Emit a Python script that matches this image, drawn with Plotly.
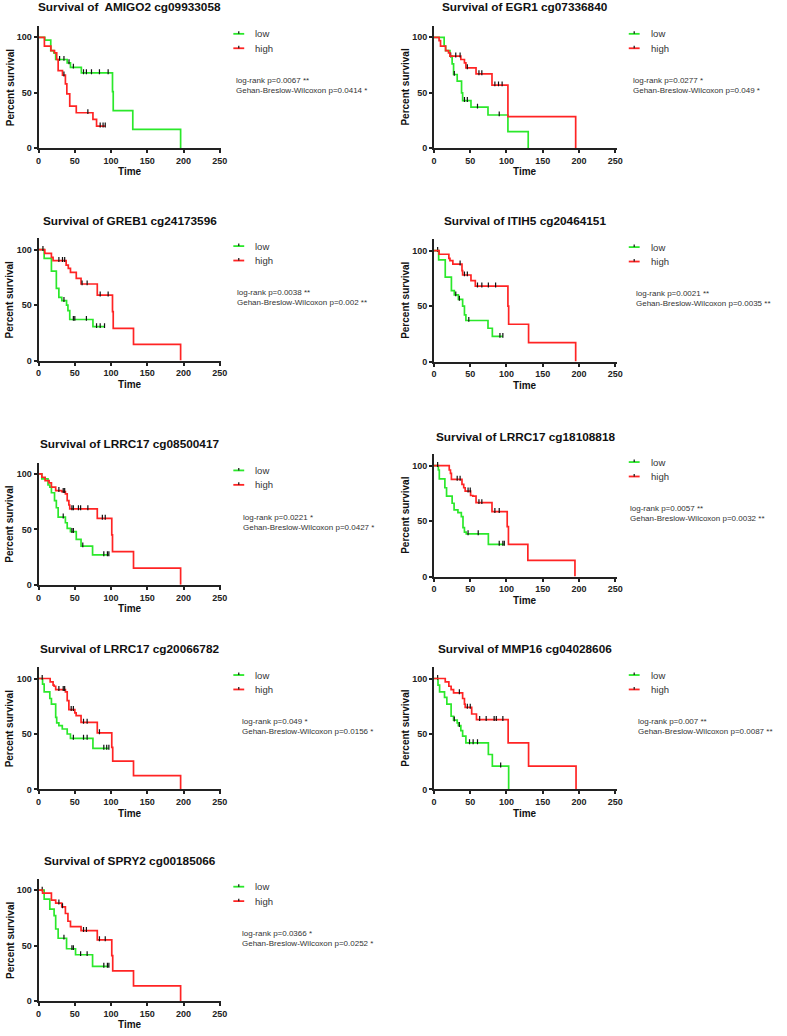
import plotly.graph_objects as go

W, H = 787, 1036

titles = [
    "Survival of  AMIGO2 cg09933058", "Survival of EGR1 cg07336840",
    "Survival of GREB1 cg24173596", "Survival of ITIH5 cg20464151",
    "Survival of LRRC17 cg08500417", "Survival of LRRC17 cg18108818",
    "Survival of LRRC17 cg20066782", "Survival of MMP16 cg04028606",
    "Survival of SPRY2 cg00185066",
]
logrank = [
    "log-rank p=0.0067 **", "log-rank p=0.0277 *", "log-rank p=0.0038 **",
    "log-rank p=0.0021 **", "log-rank p=0.0221 *", "log-rank p=0.0057 **",
    "log-rank p=0.049 *", "log-rank p=0.007 **", "log-rank p=0.0366 *",
]
gehan = [
    "Gehan-Breslow-Wilcoxon p=0.0414 *", "Gehan-Breslow-Wilcoxon p=0.049 *",
    "Gehan-Breslow-Wilcoxon p=0.002 **", "Gehan-Breslow-Wilcoxon p=0.0035 **",
    "Gehan-Breslow-Wilcoxon p=0.0427 *", "Gehan-Breslow-Wilcoxon p=0.0032 **",
    "Gehan-Breslow-Wilcoxon p=0.0156 *", "Gehan-Breslow-Wilcoxon p=0.0087 **",
    "Gehan-Breslow-Wilcoxon p=0.0252 *",
]
xticks = [0, 50, 100, 150, 200, 250]
yticks = [0, 50, 100]

# Kaplan-Meier curves: event times, percent survival after each event, censored times
amigo2_low_t = [8.6, 16.8, 21, 23.6, 39.5, 44, 59, 102, 103, 130, 196]
amigo2_low_s = [97.5, 88, 86, 80, 77, 73, 68, 51, 34, 17, 0]
amigo2_low_c = [29, 35, 42, 48, 62, 66, 73, 84, 96]
amigo2_high_t = [8, 17, 22, 25, 27, 33, 37, 39, 43, 52, 75, 80]
amigo2_high_s = [92, 88, 86, 80, 70, 66, 58, 49, 38, 32, 26, 20]
amigo2_high_c = [35, 68, 85, 89, 92]

egr1_low_t = [14, 16, 22, 25, 27, 32, 38, 39.5, 51, 74.5, 102, 130]
egr1_low_s = [92, 88, 83, 76, 66.5, 60.5, 50, 43, 37, 30, 15, 0]
egr1_low_c = [23, 28, 42, 46, 60, 90]
egr1_high_t = [7, 9, 16, 20, 22, 37, 42, 44, 58, 80, 102, 195.5]
egr1_high_s = [97, 92, 88, 86, 83, 80, 77, 72.5, 67, 57, 28.5, 0]
egr1_high_c = [30, 36, 46, 62, 66, 84, 89, 94]

greb1_low_t = [7.7, 17.7, 24.5, 28, 32, 38.6, 40.5, 43, 75]
greb1_low_s = [92, 80.5, 65, 57, 54, 50, 45, 37, 30.5]
greb1_low_c = [35, 48, 50, 66, 80, 85, 91]
greb1_high_t = [8.6, 17.7, 20, 38, 41, 44, 52, 58.6, 81, 102, 103, 131, 196]
greb1_high_s = [96.5, 93, 90, 86, 83, 79.5, 74, 69, 59, 44, 29, 14.6, 0]
greb1_high_c = [6, 28, 33, 36, 60, 67, 85, 96]

itih5_low_t = [6.4, 15.5, 24, 28, 33.6, 39.5, 42, 44, 74.5, 80.5]
itih5_low_s = [91.7, 76, 64, 60, 56, 50, 42, 37, 30, 22.6]
itih5_low_c = [5, 30, 35, 48, 91, 95]
itih5_high_t = [7, 20.5, 22, 26, 38.6, 39.5, 51, 57, 102, 103, 130.5, 195.5]
itih5_high_s = [96.7, 93, 91, 87.8, 82, 78, 73, 68, 50, 33.6, 17, 0]
itih5_high_c = [36, 42, 46, 60, 66, 75, 85]

lrrc17a_low_t = [4.5, 13, 15.5, 17.7, 22, 24.5, 27, 37, 39.5, 44, 52, 58.6, 74.5]
lrrc17a_low_s = [95.5, 90, 88, 83, 76, 69.5, 61, 56, 51, 48, 41, 35, 27]
lrrc17a_low_c = [34, 46, 48, 61, 90, 95, 97]
lrrc17a_high_t = [4.5, 9, 14.5, 17.7, 23.6, 32, 37, 39.5, 41.8, 43, 81, 101, 102, 131, 196]
lrrc17a_high_s = [97, 94, 92, 88, 85, 84, 82, 76, 72, 68.5, 60, 45, 30, 15, 0]
lrrc17a_high_c = [28, 34, 36, 46, 48, 55, 58, 68, 88, 92]

lrrc17b_low_t = [6, 7.3, 15, 17.3, 25, 27.7, 33, 37.7, 40, 42, 44.5, 75]
lrrc17b_low_s = [96, 88, 80, 72.5, 66, 60, 57.5, 54, 44, 40, 38.5, 29]
lrrc17b_low_c = [47, 61, 90, 95, 97]
lrrc17b_high_t = [21, 22.7, 24, 38.6, 41, 43, 50.5, 53.6, 58, 80, 101, 102.7, 129.5, 194.5]
lrrc17b_high_s = [96, 93, 87.5, 83, 80, 77, 73, 72.5, 66.5, 58.5, 45, 29, 14.5, 0]
lrrc17b_high_c = [5, 32, 36, 47, 50, 62, 66, 84, 90]

lrrc17c_low_t = [5.5, 7.7, 15.5, 17.7, 23.6, 25, 28, 32.7, 39.5, 44, 75]
lrrc17c_low_s = [95, 88, 82, 77, 65, 60, 57.5, 54.5, 50, 46, 37]
lrrc17c_low_c = [48, 62, 67, 90, 94, 97]
lrrc17c_high_t = [16, 20, 21.4, 23.6, 37, 39.5, 41.8, 50, 51.8, 58.6, 81, 101, 102.3, 131, 196]
lrrc17c_high_s = [97, 94, 93, 90, 88, 80, 72, 69, 66.5, 60.5, 51, 38, 25.5, 12.5, 0]
lrrc17c_high_c = [5, 28, 34, 36, 45, 48, 62, 67, 84]

mmp16_low_t = [5.5, 7.7, 14.5, 17.7, 23.6, 27, 32, 33.6, 37, 39.5, 44, 75, 80.5, 103]
mmp16_low_s = [94, 88, 83, 77, 66, 62.5, 60, 57.5, 53, 48, 42, 31.5, 21, 0]
mmp16_low_c = [5, 28, 35, 49, 54, 60, 92]
mmp16_high_t = [15.5, 20.5, 23.6, 27, 39.5, 42, 43, 52, 58.6, 102.3, 130.5, 196]
mmp16_high_s = [97, 93, 90, 87, 82, 77, 74, 68, 63, 42, 21, 0]
mmp16_high_c = [35, 46, 50, 63, 72, 83, 86, 95]

spry2_low_t = [7.7, 15.5, 21.4, 23.6, 27, 38.6, 51, 74.5]
spry2_low_s = [92, 83, 77, 65, 56.7, 47.2, 41.8, 31.3]
spry2_low_c = [5, 35, 46, 48, 58, 67, 90, 95, 97]
spry2_high_t = [5.5, 17.7, 23.6, 32, 37, 40.5, 44, 58.6, 81, 101, 102.3, 131, 196]
spry2_high_s = [97.3, 91, 88.4, 85, 79, 72, 67.2, 63.6, 55.2, 41, 27.2, 13.7, 0]
spry2_high_c = [28, 33, 62, 66, 84, 92]

curves = [
    (amigo2_low_t, amigo2_low_s, amigo2_low_c, amigo2_high_t, amigo2_high_s, amigo2_high_c),
    (egr1_low_t, egr1_low_s, egr1_low_c, egr1_high_t, egr1_high_s, egr1_high_c),
    (greb1_low_t, greb1_low_s, greb1_low_c, greb1_high_t, greb1_high_s, greb1_high_c),
    (itih5_low_t, itih5_low_s, itih5_low_c, itih5_high_t, itih5_high_s, itih5_high_c),
    (lrrc17a_low_t, lrrc17a_low_s, lrrc17a_low_c, lrrc17a_high_t, lrrc17a_high_s, lrrc17a_high_c),
    (lrrc17b_low_t, lrrc17b_low_s, lrrc17b_low_c, lrrc17b_high_t, lrrc17b_high_s, lrrc17b_high_c),
    (lrrc17c_low_t, lrrc17c_low_s, lrrc17c_low_c, lrrc17c_high_t, lrrc17c_high_s, lrrc17c_high_c),
    (mmp16_low_t, mmp16_low_s, mmp16_low_c, mmp16_high_t, mmp16_high_s, mmp16_high_c),
    (spry2_low_t, spry2_low_s, spry2_low_c, spry2_high_t, spry2_high_s, spry2_high_c),
]

# panel placement in pixels: left edge of plot (time 0), bottom (0 %)
px_left = [36, 436, 36, 436, 36, 436, 36, 436, 36]
px_bottom = [149, 149, 362.3, 363.3, 587.7, 579.3, 793.3, 793.3, 1006]
px_title = [7.3, 7.3, 221.7, 221.7, 445.7, 439, 651.7, 651.7, 865]
px_note_x = [234, 635, 235, 638, 240.7, 632, 240, 640, 240]

XMAX, YMAX = 252, 110
SX, SY = 0.733, 1.115  # px per unit

GREEN = "#2be82b"
RED = "#ff2424"
FONT = "Liberation Sans, Arial, sans-serif"


def px(x):
    return x / W


def py(y):
    return 1 - y / H


def step_xy(t, s, c):
    end = max(t[-1], max(c) if c else 0)
    xs = [0] + t + [end]
    ys = [100] + s + [s[-1]]
    return xs, ys


def surv_at(t, s, when):
    v = 100
    for ti, si in zip(t, s):
        if ti <= when:
            v = si
    return v


fig = go.Figure()
shapes = []
annotations = []

for i in range(9):
    n = "" if i == 0 else str(i + 1)
    xa, ya = "x" + n, "y" + n
    x0 = px_left[i]
    x1 = x0 + XMAX * SX
    yb = px_bottom[i]
    yt = yb - YMAX * SY
    y100 = yb - 100 * SY

    lt, ls, lc, ht, hs, hc = curves[i]
    for t, s, c, col, name in [(lt, ls, lc, GREEN, "low"), (ht, hs, hc, RED, "high")]:
        xs, ys = step_xy(t, s, c)
        fig.add_trace(go.Scatter(x=xs, y=ys, mode="lines", line=dict(color=col, width=1.7, shape="hv"),
                                 xaxis=xa, yaxis=ya, showlegend=False, name=name))
        fig.add_trace(go.Scatter(x=c, y=[surv_at(t, s, v) + 1.0 for v in c], mode="markers",
                                 marker=dict(symbol="line-ns", size=3.5, line=dict(color="#111", width=1.2)),
                                 xaxis=xa, yaxis=ya, showlegend=False, hoverinfo="skip"))

    axstyle = dict(showline=True, linewidth=2, linecolor="#222", ticks="outside", ticklen=3,
                   tickwidth=1.5, tickcolor="#222", showgrid=False, zeroline=False,
                   tickfont=dict(family=FONT, size=9, color="#222", weight="bold"))
    fig.layout["xaxis" + n] = dict(domain=[px(x0), px(x1)], range=[0, XMAX], tickvals=xticks,
                                   anchor=ya, **axstyle)
    fig.layout["yaxis" + n] = dict(domain=[py(yb), py(yt)], range=[0, YMAX], tickvals=yticks,
                                   anchor=xa, **axstyle)

    # title and axis titles
    annotations.append(dict(text=titles[i], x=px((x0 + x1) / 2), y=py(px_title[i]), xref="paper",
                            yref="paper", showarrow=False, xanchor="center", yanchor="middle",
                            font=dict(family=FONT, size=11.8, color="#111", weight="bold")))
    annotations.append(dict(text="Time", x=px((x0 + x1) / 2), y=py(yb + 23.7), xref="paper",
                            yref="paper", showarrow=False, xanchor="center", yanchor="middle",
                            font=dict(family=FONT, size=10, color="#111", weight="bold")))
    annotations.append(dict(text="Percent survival", x=px(x0 - 29), y=py((yb + yt) / 2), xref="paper",
                            yref="paper", showarrow=False, textangle=-90, xanchor="center",
                            yanchor="middle", font=dict(family=FONT, size=10, color="#111", weight="bold")))

    # legend
    lx = x0 + 197
    for k, (lab, col) in enumerate([("low", GREEN), ("high", RED)]):
        ly = y100 - 3.5 + 14.5 * k
        shapes.append(dict(type="line", xref="paper", yref="paper", x0=px(lx), x1=px(lx + 11),
                           y0=py(ly), y1=py(ly), line=dict(color=col, width=1.8)))
        shapes.append(dict(type="line", xref="paper", yref="paper", x0=px(lx + 5.5), x1=px(lx + 5.5),
                           y0=py(ly), y1=py(ly - 2.5), line=dict(color="#111", width=1.2)))
        annotations.append(dict(text=lab, x=px(lx + 20), y=py(ly), xref="paper", yref="paper",
                                showarrow=False, xanchor="left", yanchor="middle",
                                font=dict(family=FONT, size=9.5, color="#333")))

    # test statistics
    for k, txt in enumerate([logrank[i], gehan[i]]):
        annotations.append(dict(text=txt, x=px(px_note_x[i]), y=py(y100 + 43.5 + 10 * k), xref="paper",
                                yref="paper", showarrow=False, xanchor="left", yanchor="middle",
                                font=dict(family=FONT, size=8, color="#333")))

fig.update_layout(width=W, height=H, margin=dict(l=0, r=0, t=0, b=0),
                  paper_bgcolor="white", plot_bgcolor="white",
                  shapes=shapes, annotations=annotations, showlegend=False)

# drop the browser's default body margin so the figure sits at the page corner
fig.write_html("out.html", config={"displayModeBar": False},
               post_script="document.body.style.margin = '0';")
